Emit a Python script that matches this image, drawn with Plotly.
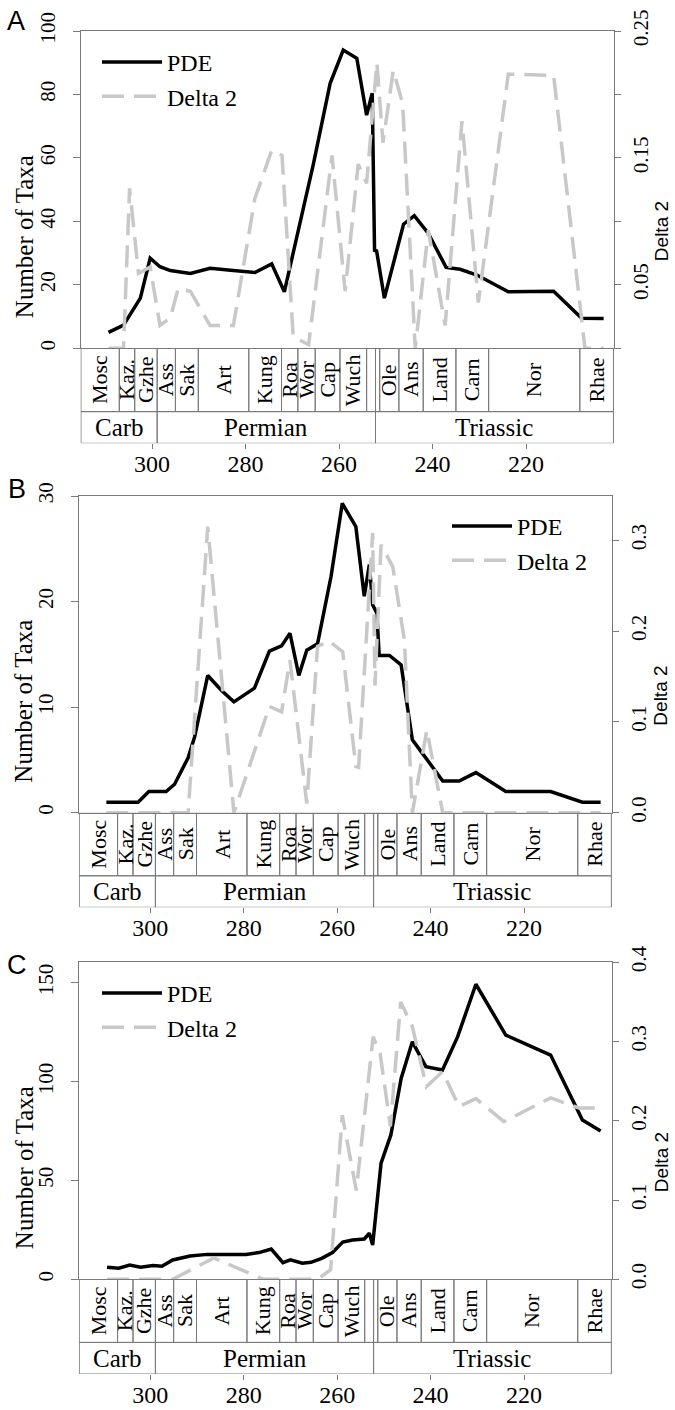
import plotly.graph_objects as go

W, H = 675, 1410

# ---------------- geological timescale (Ma) ----------------
stage_names = ["Mosc", "Kaz.", "Gzhe", "Ass", "Sak", "Art", "Kung", "Roa", "Wor", "Cap",
               "Wuch", "", "", "Ole", "Ans", "Land", "Carn", "Nor", "Rhae"]
stage_start = [315.2, 307.0, 303.7, 298.9, 295.0, 290.1, 279.3, 272.3, 268.8, 265.1,
               259.8, 254.1, 252.2, 251.3, 247.2, 242.0, 235.0, 228.0, 208.5]
stage_end = [307.0, 303.7, 298.9, 295.0, 290.1, 279.3, 272.3, 268.8, 265.1, 259.8,
             254.1, 252.2, 251.3, 247.2, 242.0, 235.0, 228.0, 208.5, 201.3]
period_names = ["Carb", "Permian", "Triassic"]
period_start = [315.2, 298.9, 252.2]
period_end = [298.9, 252.2, 201.3]
x_ticks = [300, 280, 260, 240, 220]

# ---------------- Panel A ----------------
ageA_pde = [309.3, 306.1, 302.5, 300.4, 298.3, 296.1, 291.8, 287.6, 282.6, 278.0, 274.4,
            271.7, 265.5, 261.9, 259.1, 256.2, 254.1, 252.9, 252.4, 252.0, 250.3, 246.2,
            243.9, 240.9, 237.1, 234.1, 230.5, 223.8, 214.1, 208.1, 203.4]
pdeA = [5.0, 7.3, 15.8, 28.4, 25.7, 24.5, 23.6, 25.2, 24.5, 23.9, 26.6,
        17.8, 58.0, 83.5, 94.0, 91.4, 73.5, 80.4, 30.5, 31.0, 15.8, 39.1,
        41.8, 36.2, 25.5, 24.9, 23.1, 17.8, 18.0, 9.5, 9.4]
ageA_d2 = [309.3, 306.1, 304.8, 302.9, 300.4, 298.3, 296.1, 294.4, 291.8, 287.6, 282.6,
           278.0, 274.4, 272.2, 269.8, 266.5, 261.5, 258.7, 255.9, 254.1, 251.9, 250.6,
           248.4, 246.4, 243.7, 240.9, 237.3, 233.7, 230.2, 223.8, 214.1, 207.4, 203.4]
d2A = [0.0, 0.0, 0.126, 0.059, 0.064, 0.018, 0.024, 0.047, 0.045, 0.018, 0.018,
       0.118, 0.156, 0.152, 0.009, 0.003, 0.152, 0.045, 0.145, 0.130, 0.225, 0.162,
       0.219, 0.193, 0.0, 0.093, 0.018, 0.179, 0.036, 0.216, 0.215, 0.0, 0.0]
yticksA = [0, 20, 40, 60, 80, 100]
dticksA = [0.0, 0.05, 0.10, 0.15, 0.20, 0.25]
dtextA = ["", "0.05", "", "0.15", "", "0.25"]

# ---------------- Panel B ----------------
ageB_pde = [309.4, 302.6, 300.3, 296.6, 294.8, 291.9, 290.5, 287.7, 284.8, 282.1, 277.7,
            274.5, 271.9, 270.1, 268.2, 266.5, 264.2, 261.3, 258.9, 256.0, 254.2, 253.1,
            252.4, 251.5, 251.0, 248.8, 246.3, 243.9, 241.7, 237.4, 233.9, 230.3, 223.9,
            214.3, 207.5, 203.6]
pdeB = [1.0, 1.0, 2.0, 2.0, 2.7, 5.2, 7.2, 13.0, 11.6, 10.5, 11.8,
        15.3, 15.8, 17.0, 13.0, 15.4, 16.0, 22.4, 29.3, 27.1, 20.5, 23.5,
        19.7, 18.9, 14.9, 14.9, 14.0, 6.9, 5.6, 3.0, 3.0, 3.8, 2.0,
        2.0, 1.0, 1.0]
ageB_d2 = [309.4, 291.9, 287.7, 282.1, 274.5, 271.9, 270.1, 266.5, 264.2, 261.7, 258.8,
           256.0, 255.4, 252.4, 251.9, 250.6, 248.1, 245.6, 243.9, 240.8, 237.4, 203.6]
d2B = [0.0, 0.0, 0.315, 0.0, 0.117, 0.111, 0.168, 0.010, 0.183, 0.189, 0.177,
       0.051, 0.050, 0.308, 0.140, 0.295, 0.271, 0.190, 0.0, 0.091, 0.0, 0.0]
yticksB = [0, 10, 20, 30]
dticksB = [0.0, 0.1, 0.2, 0.3]
dtextB = ["0.0", "0.1", "0.2", "0.3"]

# ---------------- Panel C ----------------
ageC_pde = [309.25, 306.75, 304.4, 302.1, 299.4, 297.5, 295.2, 291.5, 287.8, 279.5, 276.7,
            274.1, 271.6, 270.0, 267.45, 265.6, 263.3, 261.0, 258.8, 256.7, 254.2, 253.1,
            252.4, 250.6, 248.5, 246.3, 243.9, 241.0, 237.45, 234.2, 230.3, 223.9, 214.3,
            207.5, 203.6]
pdeC = [6.1, 5.6, 7.2, 6.1, 7.0, 6.6, 9.8, 11.8, 12.6, 12.6, 13.5,
        15.3, 8.4, 9.8, 8.1, 8.6, 10.6, 13.5, 18.8, 19.9, 20.4, 23.3,
        17.3, 58.7, 73.0, 101.6, 120.1, 107.5, 105.8, 122.7, 149.2, 123.5, 113.4,
        80.6, 75.0]
ageC_d2 = [309.25, 295.2, 286.4, 275.8, 264.2, 261.4, 258.9, 255.9, 252.3, 250.8, 248.6,
           246.4, 243.9, 240.9, 237.45, 233.9, 230.3, 224.3, 214.3, 208.2, 203.6]
d2C = [0.0, 0.0, 0.027, 0.0, 0.0, 0.012, 0.207, 0.112, 0.306, 0.285, 0.193,
       0.350, 0.319, 0.243, 0.262, 0.218, 0.228, 0.199, 0.229, 0.216, 0.216]
yticksC = [0, 50, 100, 150]
dticksC = [0.0, 0.1, 0.2, 0.3, 0.4]
dtextC = ["0.0", "0.1", "0.2", "0.3", "0.4"]

series = [
    dict(letter="A", age_p=ageA_pde, pde=pdeA, age_d=ageA_d2, d2=d2A,
         yt=yticksA, dt=dticksA, dtx=dtextA),
    dict(letter="B", age_p=ageB_pde, pde=pdeB, age_d=ageB_d2, d2=d2B,
         yt=yticksB, dt=dticksB, dtx=dtextB),
    dict(letter="C", age_p=ageC_pde, pde=pdeC, age_d=ageC_d2, d2=d2C,
         yt=yticksC, dt=dticksC, dtx=dtextC),
]

# ---------------- layout geometry (pixels) ----------------
geom = [
    dict(left=80.5, right=614.4, top=31.0, zero=348.3, sbot=411.7, pbot=443.3,
         ymax=100, dmax=0.25, leg_x=97.0, leg_y=40, lx=16, ly=21),
    dict(left=78.8, right=612.3, top=496.0, zero=812.7, sbot=876.7, pbot=907.3,
         ymax=30, dmax=0.3487, leg_x=447.0, leg_y=504, lx=17, ly=489),
    dict(left=78.8, right=612.3, top=962.3, zero=1279.3, sbot=1342.7, pbot=1374.0,
         ymax=160.3, dmax=0.4, leg_x=97.0, leg_y=971, lx=17, ly=965),
]
XRANGE = [315.3, 201.1]

SERIF = "Liberation Serif"
SANS = "Liberation Sans"
LINEC = "#7a7a7a"
GREY = "#c8c8c8"


def px(v):
    return v / W


def py(v):
    return 1 - v / H


def key(prefix, n):
    return prefix if n == 1 else f"{prefix}{n}"


fig = go.Figure()
layout = {}
shapes = []
annotations = []

for i, (s, g) in enumerate(zip(series, geom)):
    xm, xg = 2 * i + 1, 2 * i + 2
    yl, yr, yg = 3 * i + 1, 3 * i + 2, 3 * i + 3
    xm_n = "x" if xm == 1 else f"x{xm}"
    xg_n = f"x{xg}"
    yl_n = "y" if yl == 1 else f"y{yl}"
    yr_n = f"y{yr}"
    yg_n = f"y{yg}"
    leg_n = "legend" if i == 0 else f"legend{i + 1}"

    dom_x = [px(g["left"]), px(g["right"])]
    layout[key("xaxis", xm)] = dict(
        domain=dom_x, range=XRANGE, anchor=yl_n, showline=True, mirror=True,
        linecolor=LINEC, linewidth=1, showgrid=False, zeroline=False,
        showticklabels=False, ticks="")
    layout[key("yaxis", yl)] = dict(
        domain=[py(g["zero"]), py(g["top"])], range=[0, g["ymax"]], anchor=xm_n,
        side="left", showline=True, linecolor=LINEC, linewidth=1, ticks="outside",
        ticklen=7, tickcolor=LINEC, tickvals=s["yt"], tickangle=-90,
        tickfont=dict(family=SERIF, size=21, color="black"), showgrid=False,
        zeroline=False, ticklabelstandoff=9, automargin=False)
    layout[key("yaxis", yr)] = dict(
        overlaying=yl_n, range=[0, g["dmax"]], anchor=xm_n, side="right",
        showline=True, linecolor=LINEC, linewidth=1, ticks="outside", ticklen=6,
        tickcolor=LINEC, tickvals=s["dt"], ticktext=s["dtx"], tickangle=-90,
        tickfont=dict(family=SERIF, size=21, color="black"), showgrid=False,
        zeroline=False, ticklabelstandoff=1, automargin=False)
    layout[key("xaxis", xg)] = dict(
        domain=dom_x, range=XRANGE, anchor=yg_n, showline=False, showgrid=False,
        zeroline=False, ticks="outside", ticklen=5, tickcolor=LINEC,
        tickvals=x_ticks, tickfont=dict(family=SERIF, size=24, color="black"),
        ticklabelstandoff=-6, automargin=False)
    layout[key("yaxis", yg)] = dict(
        domain=[py(g["pbot"]), py(g["zero"])], range=[0, 3], anchor=xg_n,
        showline=False, showgrid=False, zeroline=False, showticklabels=False,
        ticks="", fixedrange=True)

    fig.add_trace(go.Scatter(
        x=s["age_p"], y=s["pde"], mode="lines", name="PDE",
        line=dict(color="black", width=3.5), xaxis=xm_n, yaxis=yl_n, legend=leg_n))
    fig.add_trace(go.Scatter(
        x=s["age_d"], y=s["d2"], mode="lines", name="Delta 2",
        line=dict(color=GREY, width=3.5, dash="22px,10px"), xaxis=xm_n, yaxis=yr_n,
        legend=leg_n))

    layout[leg_n] = dict(
        x=px(g["leg_x"]), y=py(g["leg_y"]), xanchor="left", yanchor="top",
        bgcolor="rgba(0,0,0,0)", borderwidth=0, itemwidth=60,
        font=dict(family=SERIF, size=24, color="black"), tracegroupgap=0)

    for name, a, b in zip(stage_names, stage_start, stage_end):
        shapes.append(dict(type="rect", xref=xg_n, yref=yg_n, x0=a, x1=b, y0=1, y1=3,
                           line=dict(color=LINEC, width=1), fillcolor="rgba(0,0,0,0)"))
        if name:
            annotations.append(dict(
                x=(a + b) / 2, y=2, xref=xg_n, yref=yg_n, text=name, showarrow=False,
                xanchor="center", yanchor="middle", textangle=-90,
                font=dict(family=SERIF, size=22, color="black")))
    for name, a, b in zip(period_names, period_start, period_end):
        shapes.append(dict(type="rect", xref=xg_n, yref=yg_n, x0=a, x1=b, y0=0, y1=1,
                           line=dict(color=LINEC, width=1), fillcolor="rgba(0,0,0,0)"))
        annotations.append(dict(
            x=(a + b) / 2, y=0.5, xref=xg_n, yref=yg_n, text=name, showarrow=False,
            xanchor="center", yanchor="middle",
            font=dict(family=SERIF, size=25, color="black")))

    mid = (g["top"] + g["pbot"]) / 2
    annotations.append(dict(
        x=px(24), y=py(mid), xref="paper", yref="paper", text="Number of Taxa",
        showarrow=False, xanchor="center", yanchor="middle", textangle=-90,
        font=dict(family=SERIF, size=25, color="black")))
    annotations.append(dict(
        x=px(661), y=py(mid - 6), xref="paper", yref="paper", text="Delta 2",
        showarrow=False, xanchor="center", yanchor="middle", textangle=-90,
        font=dict(family=SANS, size=19, color="black")))
    annotations.append(dict(
        x=px(g["lx"]), y=py(g["ly"]), xref="paper", yref="paper", text=s["letter"],
        showarrow=False, xanchor="center", yanchor="middle",
        font=dict(family=SANS, size=27, color="black")))

fig.update_layout(
    width=W, height=H, margin=dict(l=0, r=0, t=0, b=0, pad=0, autoexpand=False),
    paper_bgcolor="white", plot_bgcolor="white", showlegend=True,
    shapes=shapes, annotations=annotations, **layout)

fig.write_html("out.html", config={"displayModeBar": False},
               post_script="document.body.style.margin='0px';")
